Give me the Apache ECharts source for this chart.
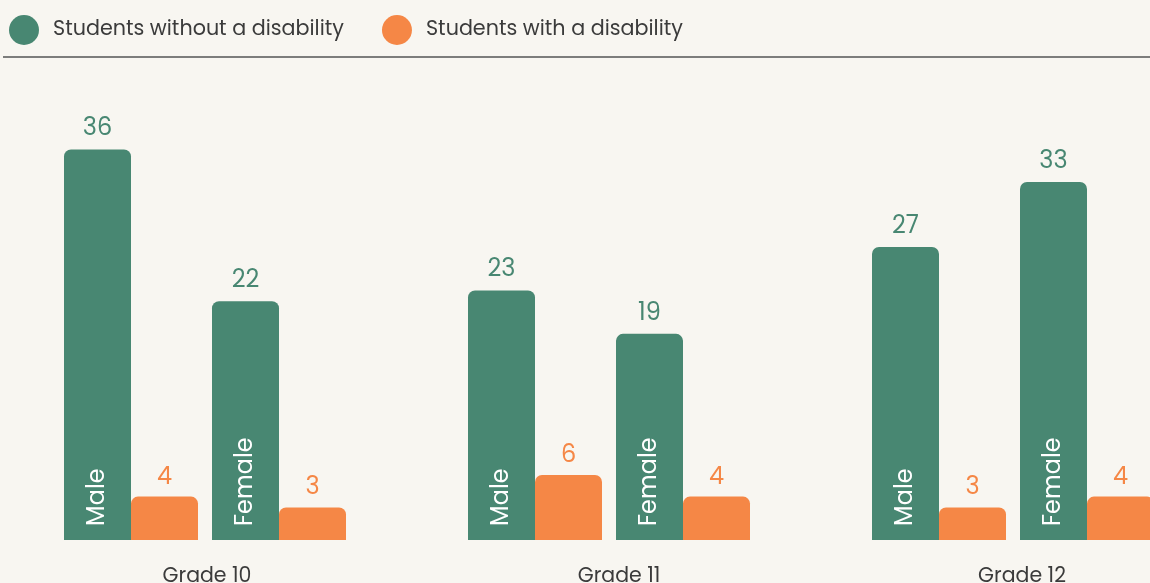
<!DOCTYPE html>
<html><head><meta charset="utf-8">
<script src="https://cdn.jsdelivr.net/npm/echarts@6/dist/echarts.min.js"></script>
<style>html,body{margin:0;padding:0;background:#f8f6f1}#c{width:1150px;height:583px}</style>
</head><body><div id="c"></div>
<script>
const grades = ['Grade 10', 'Grade 11', 'Grade 12'];
const genders = ['Male', 'Female'];
const withoutDisability = [[36, 22], [23, 19], [27, 33]];
const withDisability = [[4, 3], [6, 4], [3, 4]];
const seriesNames = ['Students without a disability', 'Students with a disability'];

const GREEN = '#488772', ORANGE = '#f58746', TEXT = '#3b3b3b';
const FONT = 'Poppins, "Open Sans", sans-serif';
const gridLeft0 = 57, gridStep = 404, gridWidth = 296;
const nameShift = [2, 10, 9];

const grid = [], xAxis = [], yAxis = [], series = [];
grades.forEach((g, i) => {
  grid.push({ left: gridLeft0 + gridStep * i, width: gridWidth, top: 106, bottom: 43, outerBoundsMode: 'none', containLabel: false });
  xAxis.push({
    type: 'category', gridIndex: i, data: genders,
    axisLine: { show: false }, axisTick: { show: false }, axisLabel: { show: false },
    name: g, nameLocation: 'middle', nameGap: 26,
    nameTextStyle: { fontSize: 20.5, color: TEXT, fontFamily: FONT, padding: [0, 0, 0, 2 * nameShift[i]] }
  });
  yAxis.push({ type: 'value', gridIndex: i, min: 0, max: 40, show: false });
  series.push({
    name: seriesNames[0], type: 'bar', xAxisIndex: i, yAxisIndex: i, stack: 'g' + i,
    data: withoutDisability[i], barWidth: 67, barGap: 0,
    itemStyle: { color: GREEN, borderRadius: [7, 7, 0, 0] },
    label: { show: true, position: 'insideBottom', rotate: 90, align: 'left', verticalAlign: 'middle',
      distance: 14, color: '#ffffff', fontSize: 24, fontFamily: FONT,
      formatter: p => genders[p.dataIndex] }
  });
  series.push({
    name: 'valueLabel' + i, type: 'bar', xAxisIndex: i, yAxisIndex: i, stack: 'g' + i,
    data: genders.map(() => 0), barWidth: 67, barGap: 0,
    itemStyle: { color: 'rgba(0,0,0,0)' },
    label: { show: true, position: 'top', distance: 8, color: GREEN, fontSize: 24, fontFamily: FONT,
      formatter: p => String(withoutDisability[i][p.dataIndex]) }
  });
  series.push({
    name: seriesNames[1], type: 'bar', xAxisIndex: i, yAxisIndex: i,
    data: withDisability[i], barWidth: 67, barGap: 0,
    itemStyle: { color: ORANGE, borderRadius: [7, 7, 0, 0] },
    label: { show: true, position: 'top', distance: 7, color: ORANGE, fontSize: 24, fontFamily: FONT }
  });
});

const chart = echarts.init(document.getElementById('c'));
chart.setOption({
  backgroundColor: '#f8f6f1',
  animation: false,
  legend: {
    data: seriesNames, left: 4, top: 10, icon: 'circle', itemWidth: 30, itemHeight: 30, itemGap: 38,
    textStyle: { fontSize: 20.7, color: TEXT, fontFamily: FONT, padding: [0, 0, 0, 9] }
  },
  graphic: [{ type: 'line', shape: { x1: 3, y1: 57, x2: 1150, y2: 57 }, style: { stroke: '#555555', lineWidth: 1.5 } }],
  grid, xAxis, yAxis, series
});
</script></body></html>
